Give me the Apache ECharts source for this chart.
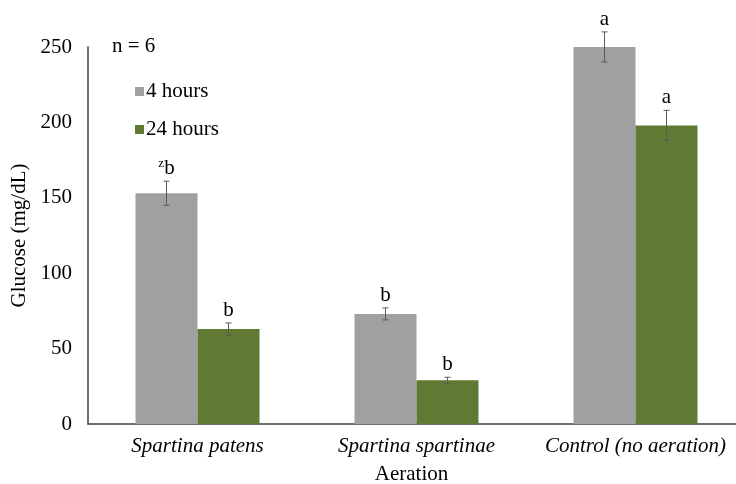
<!DOCTYPE html>
<html><head><meta charset="utf-8">
<script src="https://cdn.jsdelivr.net/npm/echarts@6/dist/echarts.min.js"></script>
<style>html,body{margin:0;padding:0;background:#fff;overflow:hidden}#c{width:736px;height:484px}</style>
</head><body><div id="c"></div>
<script>
const categories = ['Spartina patens', 'Spartina spartinae', 'Control (no aeration)'];
const seriesNames = ['4 hours', '24 hours'];
const values4h = [153, 73, 250];
const values24h = [63, 29, 198];
const err4h = [8, 4, 10];
const err24h = [4, 2, 10];
const letters4h = ['{sup|z}b', 'b', 'a'];
const letters24h = ['b', 'b', 'a'];
const yTicks = [0, 50, 100, 150, 200, 250];

const FONT = 'Liberation Serif';
const FS = 21;
const BAR_W = 62;
const colors = ['#A0A0A0', '#607A34'];

function errSeries(vals, errs, letters, sign) {
  return {
    type: 'custom',
    silent: true,
    z: 10,
    data: vals.map((v, i) => [i, v, errs[i]]),
    renderItem: function (params, api) {
      const i = api.value(0), v = api.value(1), e = api.value(2);
      const c = api.coord([i, v]);
      const x = c[0] + sign * BAR_W / 2;
      const yTop = api.coord([i, v + e])[1];
      const yBot = api.coord([i, v - e])[1];
      const cap = 3;
      const st = { stroke: '#595959', lineWidth: 1 };
      return {
        type: 'group',
        children: [
          { type: 'line', shape: { x1: x, y1: yTop, x2: x, y2: yBot }, style: st },
          { type: 'line', shape: { x1: x - cap, y1: yTop, x2: x + cap, y2: yTop }, style: st },
          { type: 'line', shape: { x1: x - cap, y1: yBot, x2: x + cap, y2: yBot }, style: st },
          { type: 'text', x: x, y: yTop - 2, style: {
              text: letters[i], x: 0, y: 0, align: 'center', verticalAlign: 'bottom',
              fontFamily: FONT, fontSize: FS, fill: '#000',
              rich: { sup: { fontFamily: FONT, fontSize: 13, fill: '#000', verticalAlign: 'top', padding: [0,0,9,0] } }
          } }
        ]
      };
    }
  };
}

const chart = echarts.init(document.getElementById('c'), null, { width: 736, height: 484 });
chart.setOption({
  animation: false,
  textStyle: { fontFamily: FONT },
  grid: { left: 88, top: 47, width: 657, height: 377, containLabel: false, outerBoundsMode: 'none' },
  legend: {
    data: seriesNames, orient: 'vertical', left: 130, top: 76, itemWidth: 9, itemHeight: 9,
    itemGap: 17, icon: 'rect',
    textStyle: { fontFamily: FONT, fontSize: FS, color: '#000', padding: [0,0,0,-3] }
  },
  graphic: [
    { type: 'text', left: 112, top: 36, style: { text: 'n = 6', fontFamily: FONT, fontSize: FS, fill: '#000' } }
  ],
  xAxis: {
    type: 'category', data: categories,
    name: 'Aeration', nameLocation: 'middle', nameGap: 40,
    nameTextStyle: { fontFamily: FONT, fontSize: FS, color: '#000', padding: [0, 10, 0, 0] },
    axisLine: { lineStyle: { color: '#404040', width: 1.5 } },
    axisTick: { show: false },
    axisLabel: { interval: 0, hideOverlap: false, fontFamily: FONT, fontStyle: 'italic', fontSize: FS, color: '#000', margin: 12 }
  },
  yAxis: {
    type: 'value', min: 0, max: 250, interval: 50,
    name: 'Glucose (mg/dL)', nameLocation: 'middle', nameGap: 51,
    nameTextStyle: { fontFamily: FONT, fontSize: FS, color: '#000' },
    axisLine: { show: true, lineStyle: { color: '#404040', width: 1.5 } },
    axisTick: { show: false },
    splitLine: { show: false },
    axisLabel: { fontFamily: FONT, fontSize: FS, color: '#000', margin: 16,
      formatter: v => yTicks.includes(v) ? String(v) : '' }
  },
  series: [
    { name: seriesNames[0], type: 'bar', data: values4h, barWidth: BAR_W, barGap: '0%', itemStyle: { color: colors[0] } },
    { name: seriesNames[1], type: 'bar', data: values24h, barWidth: BAR_W, barGap: '0%', itemStyle: { color: colors[1] } },
    errSeries(values4h, err4h, letters4h, -1),
    errSeries(values24h, err24h, letters24h, 1)
  ]
});
</script></body></html>
